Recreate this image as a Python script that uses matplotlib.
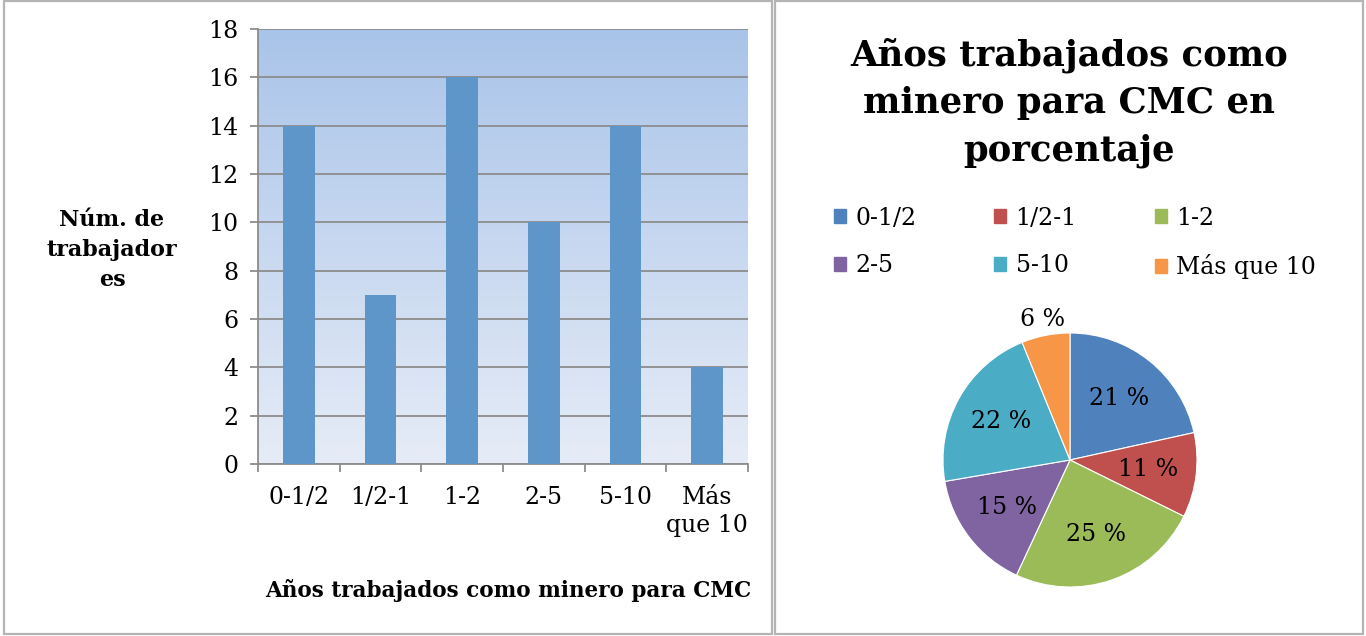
import numpy as np
import matplotlib.pyplot as plt
from matplotlib.patches import Rectangle
from matplotlib.colors import LinearSegmentedColormap

categories = ['0-1/2', '1/2-1', '1-2', '2-5', '5-10', 'Más\nque 10']
legend_names = ['0-1/2', '1/2-1', '1-2', '2-5', '5-10', 'Más que 10']
workers = [14, 7, 16, 10, 14, 4]
pct_labels = ['21 %', '11 %', '25 %', '15 %', '22 %', '6 %']
y_ticks = [0, 2, 4, 6, 8, 10, 12, 14, 16, 18]

pie_colors = ['#4f81bd', '#c0504d', '#9bbb59', '#8064a2', '#4bacc6', '#f79646']
bar_color = '#5f96c9'
serif = 'DejaVu Serif'

W, H = 1366, 636
fig = plt.figure(figsize=(W / 100, H / 100), dpi=100)

def fx(px):
    return px / W

def fy(py):
    return 1 - py / H

# panel borders
for x0, x1 in [(4, 772), (775, 1363)]:
    fig.patches.append(Rectangle((fx(x0), fy(634)), fx(x1 - x0), (634 - 1) / H,
                                 transform=fig.transFigure, fill=False,
                                 edgecolor='#b4b4b4', linewidth=1.6))

# ---- bar chart ----
ax = fig.add_axes([fx(258), fy(464), fx(748 - 258), (464 - 29) / H])
x = np.arange(len(categories))
grad = LinearSegmentedColormap.from_list('bg', ['#e6ecf7', '#a9c4e9'])
ax.imshow(np.linspace(0, 1, 256).reshape(-1, 1), aspect='auto', cmap=grad,
          origin='lower', extent=[-0.5, len(categories) - 0.5, 0, 18], zorder=0)
ax.bar(x, workers, width=0.39, color=bar_color, zorder=3)
ax.set_xlim(-0.5, len(categories) - 0.5)
ax.set_ylim(0, 18)
ax.set_yticks(y_ticks)
ax.yaxis.grid(True, color='#8c8c8c', linewidth=1.3, zorder=1)
ax.set_axisbelow(True)
ax.set_xticks(np.arange(len(categories) + 1) - 0.5, minor=False)
ax.set_xticklabels([])
ax.tick_params(axis='x', direction='out', length=6, color='#8c8c8c', width=1.3)
ax.tick_params(axis='y', direction='out', length=6, color='#8c8c8c', width=1.3,
               labelsize=17, pad=8)
for lab in ax.get_yticklabels():
    lab.set_fontfamily(serif)
for i, c in enumerate(categories):
    ax.text(i, -0.9, c, ha='center', va='top', fontsize=17, family=serif,
            linespacing=1.3)
for s in ['top', 'right']:
    ax.spines[s].set_visible(False)
for s in ['left', 'bottom']:
    ax.spines[s].set_color('#8c8c8c')
    ax.spines[s].set_linewidth(1.3)

fig.text(fx(112), fy(250), 'Núm. de\ntrabajador\nes', ha='center', va='center',
         fontsize=16, fontweight='bold', family=serif, linespacing=1.45)
fig.text(fx(508), fy(590), 'Años trabajados como minero para CMC', ha='center',
         va='center', fontsize=15.5, fontweight='bold', family=serif)

# ---- pie chart ----
fig.text(fx(1069), fy(103), 'Años trabajados como\nminero para CMC en\nporcentaje',
         ha='center', va='center', fontsize=25.5, fontweight='bold', family=serif,
         linespacing=1.5)

cx, cy, r = 1070, 460, 127
pax = fig.add_axes([fx(cx - r), fy(cy + r), fx(2 * r), 2 * r / H])
wedges, _ = pax.pie(workers, colors=pie_colors, startangle=90, counterclock=False,
                    radius=1, wedgeprops=dict(edgecolor='white', linewidth=0.8))
pax.set_xlim(-1, 1)
pax.set_ylim(-1, 1)
for w, lab in zip(wedges, pct_labels):
    ang = np.deg2rad((w.theta1 + w.theta2) / 2)
    dist = 0.62 if lab != '6 %' else 1.13
    pax.text(dist * np.cos(ang), dist * np.sin(ang), lab, ha='center', va='center',
             fontsize=17, family=serif)

# legend: 2 rows x 3 columns, filled row by row
order = [0, 3, 1, 4, 2, 5]
handles = [Rectangle((0, 0), 1, 1, color=pie_colors[i]) for i in order]
fig.legend(handles, [legend_names[i] for i in order], loc='center',
           bbox_to_anchor=(fx(1075), fy(243)), ncol=3, frameon=False,
           prop={'family': serif, 'size': 17},
           handlelength=0.5, handleheight=0.5, handletextpad=0.4,
           columnspacing=3.3, labelspacing=1.05)

fig.savefig('out.png', dpi=100)
